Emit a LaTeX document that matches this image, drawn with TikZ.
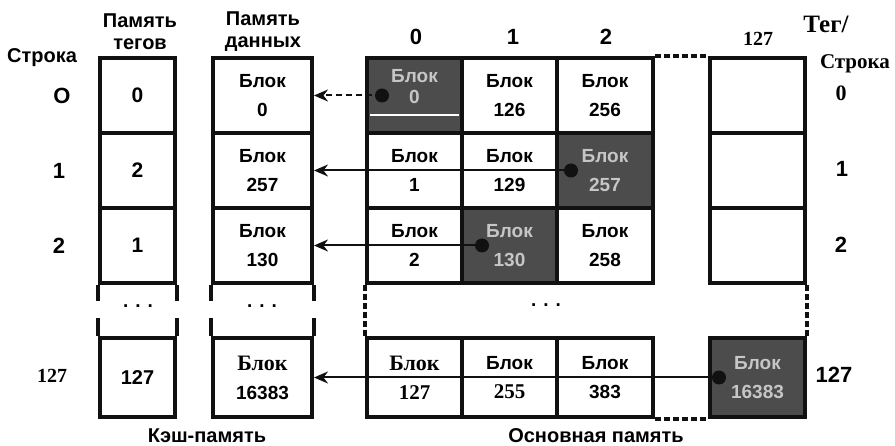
\documentclass[tikz,border=0pt]{standalone}
\usepackage{fontspec}
\setmainfont{Liberation Sans}
\newfontfamily\tmsfont{Liberation Serif}
\usetikzlibrary{arrows.meta, positioning}
\definecolor{inkblack}{HTML}{111111}
\definecolor{shadegray}{HTML}{4C4C4C}
\tikzset{
  cell/.style={draw=inkblack, line width=4pt, minimum height=75pt, inner sep=0pt,
    align=center, font=\fontsize{19}{29}\selectfont\bfseries},
  hotcell/.style={cell, fill=shadegray, text=gray!45},
  rowlbl/.style={font=\fontsize{22}{24}\selectfont\bfseries, inner sep=0pt},
  headlbl/.style={font=\fontsize{20}{22}\selectfont\bfseries, inner sep=0pt, align=center},
  link/.style={draw=inkblack, line width=2pt, -{Stealth[length=14pt,width=12pt]}},
  gapline/.style={draw=inkblack, line width=3.4pt, dash pattern=on 6pt off 3pt},
}

\begin{document}
\begin{tikzpicture}[x=1pt, y=-1pt]
  \useasboundingbox (0,0) rectangle (895,446);
  % Заголовки
  \node[headlbl] (htag) at (140,32) {Память\\тегов};
  \node[headlbl] (hdat) at (263,32) {Память\\данных};
  \node[headlbl] (hrow) at (42,58) {Строка};
  \node[rowlbl] (c0) at (416,37) {0};
  \node[rowlbl] (c1) at (513,37) {1};
  \node[rowlbl] (c2) at (606,37) {2};
  \node[rowlbl, font=\fontsize{20}{22}\selectfont\bfseries\tmsfont] (c127) at (758,39) {127};
  \node[font=\fontsize{25}{27}\selectfont\bfseries\tmsfont, inner sep=0pt] (htg) at (826,24) {Тег/};
  \node[font=\fontsize{21}{24}\selectfont\bfseries\tmsfont, inner sep=0pt] (hrs) at (855,64) {Строка};

  % Номера строк слева и справа
  \node[rowlbl] (l0) at (62,96) {O};
  \node[rowlbl] (l1) at (59,171) {1};
  \node[rowlbl] (l2) at (59,246) {2};
  \node[rowlbl, font=\fontsize{20}{22}\selectfont\bfseries\tmsfont] (l3) at (52,376) {127};
  \node[rowlbl, font=\fontsize{22}{24}\selectfont\bfseries\tmsfont] (r0) at (841,93) {0};
  \node[rowlbl] (r1) at (842,169) {1};
  \node[rowlbl] (r2) at (841,245) {2};
  \node[rowlbl] (r3) at (834,375) {127};

  % Память тегов
  \node[cell, minimum width=75pt, font=\fontsize{21}{24}\selectfont\bfseries] (t0) at (137.5,95.5) {0};
  \node[cell, minimum width=75pt, font=\fontsize{21}{24}\selectfont\bfseries] (t1) at (137.5,170.5) {2};
  \node[cell, minimum width=75pt, font=\fontsize{21}{24}\selectfont\bfseries] (t2) at (137.5,245.5) {1};
  \node[cell, minimum width=75pt, minimum height=79pt, font=\fontsize{20}{24}\selectfont\bfseries] (t3) at (137.5,377.5) {127};

  % Память данных
  \node[cell, minimum width=99pt] (d0) at (262.5,95.5) {Блок\\0};
  \node[cell, minimum width=99pt] (d1) at (262.5,170.5) {Блок\\257};
  \node[cell, minimum width=99pt] (d2) at (262.5,245.5) {Блок\\130};
  \node[cell, minimum width=99pt, minimum height=79pt] (d3) at (262.5,377.5) {{\tmsfont\fontsize{22}{29}\selectfont Блок}\\16383};

  % продолжение столбцов кэша
  \foreach \c in {t,d} {
    \draw[inkblack, line width=4pt] (\c2.south west) -- ++(0,16);
    \draw[inkblack, line width=4pt] (\c2.south east) -- ++(0,16);
    \draw[inkblack, line width=4pt] (\c3.north west) -- ++(0,-18);
    \draw[inkblack, line width=4pt] (\c3.north east) -- ++(0,-18);
  }
  \node[font=\fontsize{19}{20}\selectfont\bfseries] (tdots) at (138,306) {. . .};
  \node[font=\fontsize{19}{20}\selectfont\bfseries] (ddots) at (262,306) {. . .};

  % Основная память
  \node[hotcell, minimum width=95pt] (m00) at (414.5,95.5) {};
  \node[cell, minimum width=95pt] (m01) at (509.5,95.5) {Блок\\126};
  \node[cell, minimum width=96pt] (m02) at (605,95.5) {Блок\\256};
  \node[cell, minimum width=95pt] (m0x) at (757.5,95.5) {};
  \node[cell, minimum width=95pt] (m10) at (414.5,170.5) {Блок\\1};
  \node[cell, minimum width=95pt] (m11) at (509.5,170.5) {Блок\\129};
  \node[hotcell, minimum width=96pt] (m12) at (605,170.5) {Блок\\257};
  \node[cell, minimum width=95pt] (m1x) at (757.5,170.5) {};
  \node[cell, minimum width=95pt] (m20) at (414.5,245.5) {Блок\\2};
  \node[hotcell, minimum width=95pt] (m21) at (509.5,245.5) {Блок\\130};
  \node[cell, minimum width=96pt] (m22) at (605,245.5) {Блок\\258};
  \node[cell, minimum width=95pt] (m2x) at (757.5,245.5) {};
  \node[cell, minimum width=95pt, minimum height=79pt] (m30) at (414.5,377.5) {{\tmsfont\fontsize{22}{29}\selectfont Блок}\\{\tmsfont\fontsize{21}{29}\selectfont 127}};
  \node[cell, minimum width=95pt, minimum height=79pt] (m31) at (509.5,377.5) {Блок\\{\tmsfont\fontsize{21}{29}\selectfont 255}};
  \node[cell, minimum width=96pt, minimum height=79pt] (m32) at (605,377.5) {Блок\\383};
  \node[hotcell, minimum width=95pt, minimum height=79pt] (m3x) at (757.5,377.5) {Блок\\16383};
  % светлая полоса в блоке 0
  \draw[white, line width=2.5pt] ([shift={(5,-20)}]m00.south west) -- ([shift={(-5,-20)}]m00.south east);
  \node[align=center, text=gray!45, font=\fontsize{19}{21}\selectfont\bfseries] (m00t) at ([yshift=9pt]m00.center) {Блок\\0};
  \node[font=\fontsize{19}{20}\selectfont\bfseries] (mdots) at (546,305) {. . .};

  % пунктирные границы
  \draw[gapline] (m02.north east) -- (m0x.north west);
  \draw[gapline] (m20.south west) -- (m30.north west);
  \draw[gapline] (m2x.south east) -- (m3x.north east);
  \draw[gapline] (m32.south east) -- (m3x.south west);

  % Отображение блоков в строки кэша
  \coordinate (p0) at (382,95.5);
  \coordinate (p1) at (571,170.5);
  \coordinate (p2) at (482,245.5);
  \coordinate (p3) at (719,377.5);
  \foreach \p in {p0,p1,p2,p3} \fill[inkblack] (\p) circle (7);
  \draw[link, dash pattern=on 6pt off 4pt] (p0) -- (d0.east);
  \draw[link] (p1) -- (d1.east);
  \draw[link] (p2) -- (d2.east);
  \draw[link] (p3) -- (d3.east);

  % Подписи снизу
  \node[headlbl] (kcap) at (207,436) {Кэш-память};
  \node[headlbl] (mcap) at (596,436) {Основная память};
\end{tikzpicture}
\end{document}
